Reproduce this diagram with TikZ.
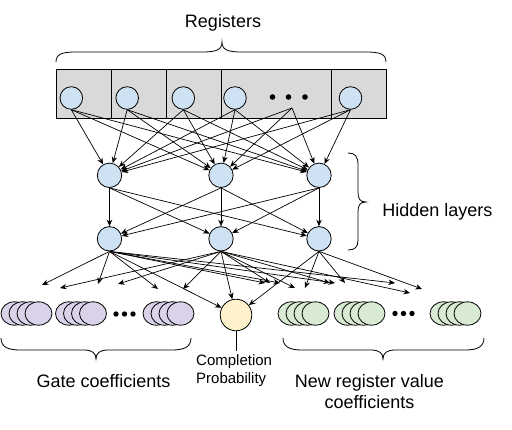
\documentclass[tikz,border=0pt]{standalone}
\usepackage{fontspec}
\setmainfont{Liberation Sans}
\usetikzlibrary{arrows.meta}
\definecolor{unitblue}{HTML}{CFE2F3}
\definecolor{reggray}{HTML}{D9D9D9}
\definecolor{gatepurple}{HTML}{D9D2E9}
\definecolor{valgreen}{HTML}{D9EAD3}
\definecolor{probyellow}{HTML}{FFF2CC}
\newcommand\coefgroup[2]{%
  \foreach \i in {0,...,3}
    \draw[line width=0.8pt, fill=#2] ({#1+13.5+8*\i},313.5) ellipse [x radius=13.5pt, y radius=11.7pt];}
\begin{document}
\begin{tikzpicture}[x=1pt,y=-1pt,
  reg/.style={circle, draw=black, line width=0.8pt, fill=unitblue, minimum size=22.6pt, inner sep=0pt},
  hid/.style={circle, draw=black, line width=0.8pt, fill=unitblue, minimum size=24.4pt, inner sep=0pt},
  conn/.style={-{Stealth[length=6.5pt,width=5.5pt]}, line width=0.7pt},
  brace/.style={line width=0.8pt},
  big/.style={font=\fontsize{18}{20.5}\selectfont},
  small/.style={font=\fontsize{15}{18}\selectfont},
  dot/.style={fill=black}]
\useasboundingbox (0,0) rectangle (512,429);

% register strip
\draw[fill=reggray, line width=0.8pt] (56,69) rectangle (386,118);
\foreach \x in {111,166,221,331} \draw[line width=0.8pt] (\x,69) -- (\x,118);
\node[reg] (r1) at (71.3,98) {};
\node[reg] (r2) at (127.2,98) {};
\node[reg] (r3) at (183.3,98) {};
\node[reg] (r4) at (235,98) {};
\node[reg] (r5) at (350.5,98) {};
\foreach \x in {272.5,288.5,305} \fill (\x,97) circle (2.8pt);
\coordinate (rd) at (292,108);

% hidden layers
\node[hid] (ha1) at (109.5,175.3) {};
\node[hid] (ha2) at (221,175.3) {};
\node[hid] (ha3) at (319,175.3) {};
\node[hid] (hb1) at (109.5,238.8) {};
\node[hid] (hb2) at (221,238.8) {};
\node[hid] (hb3) at (319,238.8) {};

% outputs
\coefgroup{1}{gatepurple}
\coefgroup{55.5}{gatepurple}
\coefgroup{143}{gatepurple}
\foreach \x in {116,124.5,133} \fill (\x,314) circle (2.7pt);
\coefgroup{278}{valgreen}
\coefgroup{334}{valgreen}
\coefgroup{430}{valgreen}
\foreach \x in {395,403.5,412} \fill (\x,313.5) circle (2.7pt);
\node[circle, draw=black, line width=0.8pt, fill=probyellow, minimum size=31.6pt, inner sep=0pt] (prob) at (236,315) {};

% connectors registers -> hidden 1
\foreach \s in {r1.south,r2.south,r3.south,r4.south,rd,r5.south}
  \foreach \t in {ha1,ha2,ha3}
    \draw[conn] (\s) -- (\t);
% hidden 1 -> hidden 2
\foreach \s in {ha1,ha2,ha3}
  \foreach \t in {hb1,hb2,hb3}
    \draw[conn] (\s.south) -- (\t);

% free ends above the outputs
\coordinate (l1) at (42,285);
\coordinate (l2) at (98,284);
\coordinate (l3) at (158,289);
\coordinate (l4) at (265,283);
\coordinate (l5) at (280,283);
\coordinate (l6) at (335,283);
\coordinate (l7) at (395,283);
\coordinate (m1) at (60,288);
\coordinate (m2) at (118,284);
\coordinate (m3) at (183,289);
\coordinate (m4) at (270,283);
\coordinate (m5) at (295,288);
\coordinate (m6) at (330,283);
\coordinate (m7) at (410,293);
\coordinate (n1) at (305,288);
\coordinate (n2) at (345,283);
\coordinate (n3) at (422,289);
\foreach \t in {l1,l2,l3,l4,l5,l6,l7,prob} \draw[conn] (hb1.south) -- (\t);
\foreach \t in {m1,m2,m3,m4,m5,m6,m7,prob} \draw[conn] (hb2.south) -- (\t);
\foreach \t in {n1,n2,n3,prob} \draw[conn] (hb3.south) -- (\t);

% braces
\draw[brace] (56,62) .. controls (56,54) and (62,52) .. (76,52) -- (202,52)
  .. controls (216,52) and (222,50) .. (222,42)
  .. controls (222,50) and (228,52) .. (242,52) -- (366,52)
  .. controls (380,52) and (386,54) .. (386,62);
\draw[brace] (348,153) .. controls (355,153) and (358,156) .. (358,165) -- (358,192)
  .. controls (358,199) and (360,202) .. (366,202)
  .. controls (360,202) and (358,205) .. (358,212) -- (358,240)
  .. controls (358,247) and (355,250) .. (348,250);
\draw[brace] (1,338) .. controls (1,347) and (8,350) .. (20,350) -- (84,350)
  .. controls (92,350) and (96,353) .. (96,359)
  .. controls (96,353) and (100,350) .. (108,350) -- (172,350)
  .. controls (184,350) and (191,347) .. (191,338);
\draw[brace] (283,338) .. controls (283,347) and (290,350) .. (302,350) -- (371,350)
  .. controls (379,350) and (383,353) .. (383,359)
  .. controls (383,353) and (387,350) .. (395,350) -- (465,350)
  .. controls (477,350) and (484,347) .. (484,338);

% labels
\node[big, anchor=base] (reglbl) at (223,27) {Registers};
\node[big, anchor=base] (hidlbl) at (437.5,216) {Hidden layers};
\node[big, anchor=base] (gatelbl) at (103.5,387) {Gate coefficients};
\node[big, anchor=base, align=center] (vallbl) at (369.5,408) {New register value\\coefficients};
\node[small, anchor=base west, align=left, inner sep=3pt] (plbl) at (193,383) {Completion\\Probability};
\draw[line width=0.8pt] (prob.south) -- (prob.south |- plbl.north);
\end{tikzpicture}
\end{document}
